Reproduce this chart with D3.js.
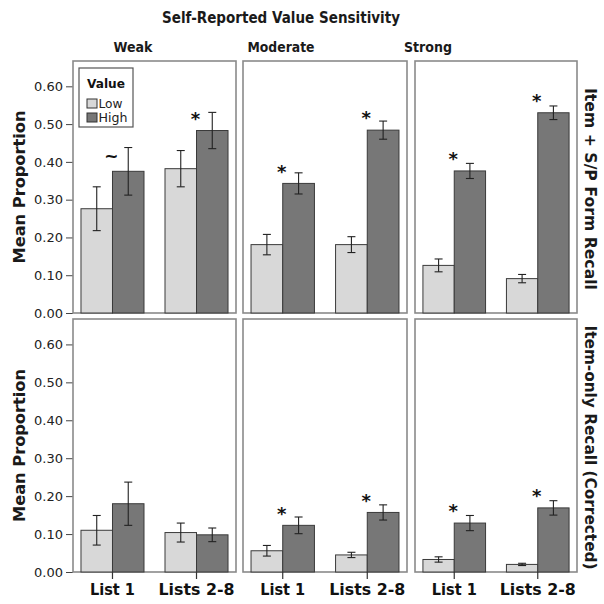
<!DOCTYPE html>
<html><head><meta charset="utf-8">
<script src="https://cdn.jsdelivr.net/npm/d3@7"></script>
<style>body{margin:0;background:#fff}svg{display:block}text{font-family:"DejaVu Sans",sans-serif}</style>
</head><body><svg id="c" width="604" height="604"></svg>
<script>
const chartTitle = "Self-Reported Value Sensitivity";
const sensitivity = ["Weak", "Moderate", "Strong"];
const lists = ["List 1", "Lists 2-8"];
const valueLevels = ["Low", "High"];
const measures = ["Item + S/P Form Recall", "Item-only Recall (Corrected)"];
const yLabel = "Mean Proportion";
const yTicks = [0, 0.1, 0.2, 0.3, 0.4, 0.5, 0.6];
// per sensitivity: [List 1 Low, List 1 High, Lists 2-8 Low, Lists 2-8 High]
const formMeans  = [[0.276, 0.375, 0.382, 0.483], [0.181, 0.343, 0.181, 0.484], [0.126, 0.376, 0.091, 0.530]];
const formErrors = [[0.058, 0.063, 0.048, 0.048], [0.027, 0.028, 0.021, 0.024], [0.017, 0.020, 0.011, 0.018]];
const formMarks  = [["~", "*"], ["*", "*"], ["*", "*"]];
const itemMeans  = [[0.110, 0.180, 0.104, 0.098], [0.056, 0.123, 0.045, 0.157], [0.033, 0.129, 0.020, 0.169]];
const itemErrors = [[0.039, 0.057, 0.025, 0.018], [0.014, 0.022, 0.007, 0.020], [0.007, 0.020, 0.003, 0.019]];
const itemMarks  = [["", ""], ["*", "*"], ["*", "*"]];

const rowsMeans = [formMeans, itemMeans];
const rowsErrors = [formErrors, itemErrors];
const rowsMarks = [formMarks, itemMarks];

const svg = d3.select("#c");
const colX = [[73, 236], [243, 407], [415, 577]];
const rowY = [[61, 313], [319, 572]];
const headerX = [133, 281, 428];
const headerW = [39, 67, 48];
const fillColor = d3.scaleOrdinal().domain(valueLevels).range(["#d8d8d8", "#777777"]);

svg.append("text").attr("x", 281).attr("y", 23).attr("text-anchor", "middle")
  .attr("font-size", 15).attr("font-weight", "bold").attr("fill", "#1a1a1a")
  .attr("textLength", 238).attr("lengthAdjust", "spacingAndGlyphs").text(chartTitle);

sensitivity.forEach((s, i) => {
  svg.append("text").attr("x", headerX[i]).attr("y", 52).attr("text-anchor", "middle")
    .attr("font-size", 14.5).attr("font-weight", "bold").attr("fill", "#1a1a1a")
    .attr("textLength", headerW[i]).attr("lengthAdjust", "spacingAndGlyphs").text(s);
});

rowY.forEach(([y0, y1], r) => {
  const y = d3.scaleLinear().domain([0, 0.667]).range([y1, y0]);
  // y axis
  const ax = svg.append("g").attr("transform", `translate(${colX[0][0]},0)`)
    .call(d3.axisLeft(y).tickValues(yTicks).tickFormat(d3.format(".2f")).tickSize(7).tickPadding(3));
  ax.select(".domain").remove();
  ax.selectAll(".tick line").attr("stroke", "#444");
  ax.selectAll(".tick text").attr("font-size", 13).attr("fill", "#222").attr("font-family", "DejaVu Sans");
  // y label
  svg.append("text").attr("transform", `translate(25,${(y0 + y1) / 2}) rotate(-90)`)
    .attr("text-anchor", "middle").attr("font-size", 15).attr("font-weight", "bold").attr("fill", "#1a1a1a")
    .attr("textLength", 153).attr("lengthAdjust", "spacingAndGlyphs").text(yLabel);
  // right label
  svg.append("text").attr("transform", `translate(585,${(y0 + y1) / 2 + 2}) rotate(90)`)
    .attr("text-anchor", "middle").attr("font-size", 16).attr("font-weight", "bold").attr("fill", "#1a1a1a")
    .attr("textLength", r === 0 ? 202 : 244).attr("lengthAdjust", "spacingAndGlyphs").text(measures[r]);

  colX.forEach(([x0, x1], c) => {
    const g = svg.append("g");
    g.append("rect").attr("x", x0).attr("y", y0).attr("width", x1 - x0).attr("height", y1 - y0)
      .attr("fill", "#fff").attr("stroke", "#8a8a8a").attr("stroke-width", 1.6);
    const xOuter = d3.scaleBand().domain(lists).range([x0, x1]).paddingInner(0.25).paddingOuter(0.095);
    const xInner = d3.scaleBand().domain(valueLevels).range([0, xOuter.bandwidth()]);
    const means = rowsMeans[r][c], errs = rowsErrors[r][c], marks = rowsMarks[r][c];
    const bars = [];
    lists.forEach((l, li) => valueLevels.forEach((v, vi) => {
      bars.push({list: l, level: v, mean: means[li * 2 + vi], err: errs[li * 2 + vi]});
    }));
    g.selectAll("rect.bar").data(bars).join("rect").attr("class", "bar")
      .attr("x", d => xOuter(d.list) + xInner(d.level))
      .attr("y", d => y(d.mean))
      .attr("width", xInner.bandwidth())
      .attr("height", d => y(0) - y(d.mean))
      .attr("fill", d => fillColor(d.level)).attr("stroke", "#3a3a3a").attr("stroke-width", 1);
    const eb = g.selectAll("g.eb").data(bars).join("g").attr("class", "eb")
      .attr("transform", d => `translate(${xOuter(d.list) + xInner(d.level) + xInner.bandwidth() / 2},0)`);
    eb.append("line").attr("y1", d => y(d.mean + d.err)).attr("y2", d => y(d.mean - d.err))
      .attr("stroke", "#222").attr("stroke-width", 1.1);
    eb.append("line").attr("x1", -4).attr("x2", 4).attr("y1", d => y(d.mean + d.err)).attr("y2", d => y(d.mean + d.err))
      .attr("stroke", "#222").attr("stroke-width", 1.1);
    eb.append("line").attr("x1", -4).attr("x2", 4).attr("y1", d => y(d.mean - d.err)).attr("y2", d => y(d.mean - d.err))
      .attr("stroke", "#222").attr("stroke-width", 1.1);
    // significance marks above High bars
    const markData = lists.map((l, li) => ({list: l, mark: marks[li], mean: means[li * 2 + 1]})).filter(d => d.mark);
    g.selectAll("text.mark").data(markData).join("text").attr("class", "mark")
      .attr("x", d => xOuter(d.list) + xOuter.bandwidth() / 2 - 1)
      .attr("y", d => y(d.mean) - 15)
      .attr("dy", d => d.mark === "*" ? "0.52em" : "0.32em")
      .attr("text-anchor", "middle").attr("font-weight", "bold")
      .attr("font-size", d => d.mark === "*" ? 18 : 17).attr("fill", "#111").text(d => d.mark);
    if (r === 1) {
      const xa = svg.append("g").attr("transform", `translate(0,${y1})`)
        .call(d3.axisBottom(xOuter).tickSize(7).tickPadding(3));
      xa.select(".domain").remove();
      xa.selectAll(".tick line").attr("stroke", "#333").attr("stroke-width", 1.2);
      xa.selectAll(".tick text").attr("y", 23).attr("dy", 0).attr("font-size", 15.5).attr("font-weight", "bold")
        .attr("fill", "#111").attr("font-family", "DejaVu Sans")
        .attr("textLength", d => d === lists[0] ? 45 : 76).attr("lengthAdjust", "spacingAndGlyphs");
    }
  });
});

// legend
const lg = svg.append("g");
lg.append("rect").attr("x", 79).attr("y", 68).attr("width", 54).attr("height", 59)
  .attr("fill", "#fff").attr("stroke", "#555").attr("stroke-width", 1.2);
lg.append("text").attr("x", 87).attr("y", 88).attr("font-size", 12).attr("font-weight", "bold").attr("fill", "#111")
  .attr("textLength", 38).attr("lengthAdjust", "spacingAndGlyphs").text("Value");
valueLevels.forEach((v, i) => {
  lg.append("rect").attr("x", 87).attr("y", 99 + i * 14).attr("width", 10).attr("height", 9)
    .attr("fill", fillColor(v)).attr("stroke", "#333").attr("stroke-width", 1);
  lg.append("text").attr("x", 98.5).attr("y", 108 + i * 14).attr("font-size", 11.5).attr("fill", "#222")
    .attr("textLength", v === "Low" ? 24 : 29).attr("lengthAdjust", "spacingAndGlyphs").text(v);
});
</script></body></html>
